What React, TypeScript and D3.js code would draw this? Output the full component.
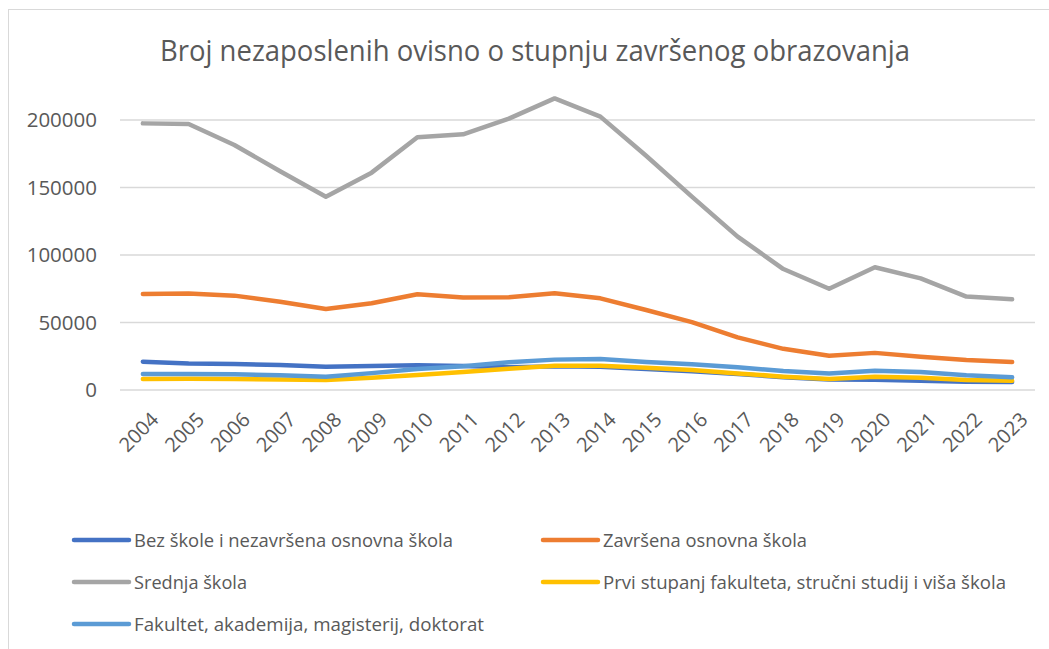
import React from "react";
import * as d3 from "d3";

const years = ["2004","2005","2006","2007","2008","2009","2010","2011","2012","2013","2014","2015","2016","2017","2018","2019","2020","2021","2022","2023"];
const bezSkole = [21000,19700,19200,18500,17300,17800,18300,17800,16800,17500,17200,15500,13800,11800,9500,7800,7600,6800,6100,5900];
const zavrsenaOsnovna = [71100,71400,69900,65400,60000,64200,70900,68600,68700,71600,67900,59300,50300,39000,30500,25400,27500,24700,22200,20700];
const srednja = [197500,197000,181500,162000,143200,161000,187200,189400,201000,216000,202500,173500,143200,113600,89600,75000,90900,82700,69200,67200];
const prviStupanj = [8100,8300,8200,7800,7400,9100,11200,13400,15800,18000,18000,16500,14800,12300,9900,8100,9900,9100,7400,6900];
const fakultet = [11900,11900,11600,10900,9900,12500,15600,17600,20500,22500,23000,20700,19000,16800,14100,12300,14300,13300,10900,9400];
const yTicks = [0,50000,100000,150000,200000];

const series = [
  { name: "Bez škole i nezavršena osnovna škola", values: bezSkole, color: "#4472C4", tl: 319 },
  { name: "Završena osnovna škola", values: zavrsenaOsnovna, color: "#ED7D31", tl: 204 },
  { name: "Srednja škola", values: srednja, color: "#A5A5A5", tl: 113 },
  { name: "Prvi stupanj fakulteta, stručni studij i viša škola", values: prviStupanj, color: "#FFC000", tl: 403 },
  { name: "Fakultet, akademija, magisterij, doktorat", values: fakultet, color: "#5B9BD5", tl: 350 },
];

const W = 1049, H = 649;
const left = 120, right = 1035, top = 120, bottom = 390;

export default function App() {
  const x = d3.scaleBand<string>().domain(years).range([left, right]);
  const y = d3.scaleLinear().domain([0, 200000]).range([bottom, top]);
  const line = d3.line<number>()
    .x((_, i) => (x(years[i]) as number) + x.bandwidth() / 2)
    .y((v) => y(v));
  const font = "'Open Sans', sans-serif";
  const txt = "#595959";
  const legendPos = [
    { lx: 74, ly: 540 }, { lx: 543, ly: 540 },
    { lx: 74, ly: 582 }, { lx: 543, ly: 582 },
    { lx: 74, ly: 624 },
  ];
  return (
    <svg width={W} height={H} style={{ position: "absolute", left: 0, top: 0, background: "#fff" }} fontFamily={font}>
      <rect x={8.5} y={9.5} width={W + 10} height={H + 10} fill="#fff" stroke="#D9D9D9" strokeWidth={1} />
      <text x={535} y={61} textAnchor="middle" fontSize={29} fill={txt} textLength={750} lengthAdjust="spacingAndGlyphs">
        Broj nezaposlenih ovisno o stupnju završenog obrazovanja
      </text>
      {yTicks.map((t) => (
        <g key={t}>
          <line x1={left} x2={right} y1={y(t)} y2={y(t)} stroke="#D9D9D9" strokeWidth={1.3} />
          <text x={97} y={y(t)} dy="0.36em" textAnchor="end" fontSize={20.5} fill={txt}>{t}</text>
        </g>
      ))}
      {years.map((yr) => {
        const cx = (x(yr) as number) + x.bandwidth() / 2;
        return (
          <text key={yr} transform={`translate(${cx + 7},${bottom + 21}) rotate(-45)`} textAnchor="end" dy="0.7em" fontSize={20} fill={txt}>
            {yr}
          </text>
        );
      })}
      {series.map((s) => (
        <path key={s.name} d={line(s.values) || ""} fill="none" stroke={s.color} strokeWidth={4.5} strokeLinejoin="round" strokeLinecap="round" />
      ))}
      {series.map((s, i) => {
        const p = legendPos[i];
        return (
          <g key={s.name}>
            <line x1={p.lx} x2={p.lx + 55} y1={p.ly} y2={p.ly} stroke={s.color} strokeWidth={4.5} strokeLinecap="round" />
            <text x={p.lx + 60} y={p.ly + 6.5} fontSize={18.5} fill={txt} textLength={s.tl} lengthAdjust="spacingAndGlyphs">{s.name}</text>
          </g>
        );
      })}
    </svg>
  );
}
